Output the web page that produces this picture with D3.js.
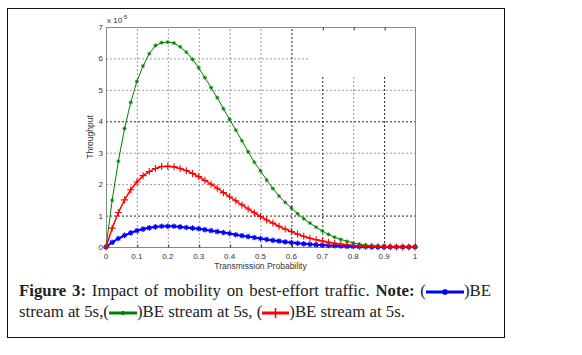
<!DOCTYPE html>
<html>
<head>
<meta charset="utf-8">
<script src="https://cdn.jsdelivr.net/npm/d3@7"></script>
<style>
  body { margin: 0; background: #fff; }
  .cap { position: absolute; left: 19px; width: 472px; font-family: "Liberation Serif", serif; font-size: 16.8px; color: #222; line-height: 21px; }
  .icon { display: inline-block; vertical-align: middle; }
</style>
</head>
<body>
<div id="chart" style="position:relative;width:582px;height:355px;"></div>
<script>
// data (values in units of 1e-5)
const probs = [0, 0.02, 0.04, 0.06, 0.08, 0.1, 0.12, 0.14, 0.16, 0.18, 0.2, 0.22, 0.24, 0.26, 0.28, 0.3, 0.32, 0.34, 0.36, 0.38,
  0.4, 0.42, 0.44, 0.46, 0.48, 0.5, 0.52, 0.54, 0.56, 0.58, 0.6, 0.62, 0.64, 0.66, 0.68, 0.7, 0.72, 0.74, 0.76, 0.78,
  0.8, 0.82, 0.84, 0.86, 0.88, 0.9, 0.92, 0.94, 0.96, 0.98, 1];
const greenVals = [0, 1.49, 2.73, 3.77, 4.6, 5.27, 5.76, 6.15, 6.41, 6.5, 6.52, 6.49, 6.37, 6.2, 5.97, 5.7, 5.39, 5.07, 4.75, 4.4,
  4.06, 3.72, 3.38, 3.03, 2.7, 2.42, 2.13, 1.86, 1.62, 1.42, 1.24, 1.06, 0.9, 0.76, 0.63, 0.51, 0.4, 0.31, 0.24, 0.18,
  0.13, 0.09, 0.06, 0.04, 0.025, 0.015, 0.008, 0.004, 0.002, 0.001, 0];
const redVals = [0, 0.6, 1.1, 1.5, 1.82, 2.07, 2.27, 2.4, 2.5, 2.56, 2.57, 2.55, 2.5, 2.43, 2.34, 2.24, 2.12, 2.0, 1.87, 1.73,
  1.6, 1.47, 1.34, 1.21, 1.09, 0.97, 0.86, 0.76, 0.66, 0.57, 0.49, 0.41, 0.34, 0.28, 0.23, 0.19, 0.15, 0.12, 0.09, 0.07,
  0.05, 0.035, 0.025, 0.017, 0.011, 0.007, 0.004, 0.002, 0.001, 0.0005, 0];
const blueVals = [0, 0.15, 0.27, 0.37, 0.45, 0.52, 0.57, 0.61, 0.64, 0.66, 0.66, 0.66, 0.64, 0.62, 0.6, 0.58, 0.55, 0.52, 0.49, 0.46,
  0.43, 0.39, 0.36, 0.33, 0.3, 0.27, 0.24, 0.21, 0.19, 0.16, 0.14, 0.12, 0.1, 0.085, 0.07, 0.06, 0.05, 0.04, 0.03, 0.022,
  0.016, 0.012, 0.008, 0.006, 0.004, 0.003, 0.002, 0.001, 0.001, 0, 0];
const xTicks = [0, 0.1, 0.2, 0.3, 0.4, 0.5, 0.6, 0.7, 0.8, 0.9, 1];
const yTicks = [0, 1, 2, 3, 4, 5, 6, 7];

const plot = { left: 106, right: 415, top: 27, bottom: 247 };

const svg = d3.select("#chart").append("svg")
    .attr("width", 582).attr("height", 355)
    .style("position", "absolute").style("left", 0).style("top", 0);

// outer frame
svg.append("rect")
    .attr("x", 7.5).attr("y", 8.5).attr("width", 497).attr("height", 329)
    .attr("fill", "none").attr("stroke", "#111").attr("stroke-width", 1);

const x = d3.scaleLinear().domain([0, 1]).range([plot.left, plot.right]);
const y = d3.scaleLinear().domain([0, 7]).range([plot.bottom, plot.top]);

// grid lines (some come out darker in the original scan)
const darkY = [1, 4], darkX = [0.6, 0.7, 0.9];
svg.selectAll(".ygrid")
    .data(yTicks.slice(1, -1))
    .join("line")
    .attr("x1", x(0))
    .attr("x2", d => d === 6 ? x(0.655) : x(1))
    .attr("y1", d => y(d) + 0.5).attr("y2", d => y(d) + 0.5)
    .attr("stroke", d => darkY.includes(d) ? "#222" : "#999")
    .attr("stroke-width", 1)
    .attr("stroke-dasharray", "2,2");

svg.selectAll(".xgrid")
    .data(xTicks.slice(1, -1))
    .join("line")
    .attr("x1", d => x(d) + 0.5).attr("x2", d => x(d) + 0.5)
    .attr("y1", y(0))
    .attr("y2", d => d >= 0.7 ? y(5.45) : y(7))
    .attr("stroke", d => darkX.includes(d) ? "#222" : "#999")
    .attr("stroke-width", 1)
    .attr("stroke-dasharray", "2,2");

// plot box
svg.append("rect")
    .attr("x", plot.left + 0.5).attr("y", plot.top + 0.5)
    .attr("width", plot.right - plot.left).attr("height", plot.bottom - plot.top)
    .attr("fill", "none").attr("stroke", "#888").attr("stroke-width", 1);

// axes
svg.append("g")
    .attr("transform", `translate(0.5,${plot.bottom + 0.5})`)
    .call(d3.axisTop(x).tickValues(xTicks).tickSize(3).tickFormat(""))
    .call(g => g.select(".domain").remove())
    .selectAll("line").attr("stroke", "#333");

svg.append("g")
    .attr("transform", `translate(0.5,${plot.top + 0.5})`)
    .call(d3.axisBottom(x).tickValues([0.7, 0.8, 0.9]).tickSize(3).tickFormat(""))
    .call(g => g.select(".domain").remove())
    .selectAll("line").attr("stroke", "#333");

svg.selectAll(".xlab")
    .data(xTicks)
    .join("text")
    .attr("x", d => x(d))
    .attr("y", plot.bottom + 12)
    .attr("text-anchor", "middle")
    .style("font-family", "Liberation Sans, Arial, sans-serif")
    .style("font-size", "8px")
    .attr("fill", "#333")
    .text(d => d);

svg.selectAll(".ylab")
    .data(yTicks)
    .join("text")
    .attr("x", plot.left - 3)
    .attr("y", d => y(d) + 3)
    .attr("text-anchor", "end")
    .style("font-family", "Liberation Sans, Arial, sans-serif")
    .style("font-size", "8px")
    .attr("fill", "#333")
    .text(d => d);

// exponent label
const expo = svg.append("text")
    .attr("x", plot.left + 1).attr("y", 23)
    .style("font-family", "Liberation Sans, Arial, sans-serif")
    .style("font-size", "8px")
    .attr("fill", "#333");
expo.append("tspan").text("x 10");
expo.append("tspan").attr("dy", -4).style("font-size", "6px").text("-5");

svg.append("text")
    .attr("transform", `translate(93,${(plot.top + plot.bottom) / 2}) rotate(-90)`)
    .attr("text-anchor", "middle")
    .style("font-family", "Liberation Sans, Arial, sans-serif")
    .style("font-size", "8.5px")
    .attr("fill", "#333")
    .text("Throughput");

svg.append("text")
    .attr("x", (plot.left + plot.right) / 2).attr("y", 269)
    .attr("text-anchor", "middle")
    .style("font-family", "Liberation Sans, Arial, sans-serif")
    .style("font-size", "8.5px")
    .attr("fill", "#333")
    .text("Transmission Probability");

// markers
function starPath(r) {
  const a = r * 0.7;
  return `M${-r},0L${r},0M0,${-r}L0,${r}M${-a},${-a}L${a},${a}M${-a},${a}L${a},${-a}`;
}
function plusPath(r) {
  return `M${-r},0L${r},0M0,${-r}L0,${r}`;
}

const series = [
  { vals: blueVals, color: "#0000ff", width: 2, marker: starPath(2.8), mw: 1.1 },
  { vals: greenVals, color: "#008000", width: 1, marker: starPath(2), mw: 0.9 },
  { vals: redVals, color: "#ff0000", width: 1.5, marker: plusPath(3.5), mw: 1.1 }
];

const line = d3.line()
    .x(d => x(d[0]))
    .y(d => y(d[1]));

series.forEach(s => {
  const pts = probs.map((p, i) => [p, s.vals[i]]);
  svg.append("path")
      .datum(pts)
      .attr("fill", "none")
      .attr("stroke", s.color)
      .attr("stroke-width", s.width)
      .attr("d", line);
  svg.append("g").selectAll("path")
      .data(pts)
      .join("path")
      .attr("transform", d => `translate(${x(d[0])},${y(d[1])})`)
      .attr("d", s.marker)
      .attr("fill", "none")
      .attr("stroke", s.color)
      .attr("stroke-width", s.mw);
});

// caption
function icon(color, w, marker) {
  const span = document.createElement("span");
  span.className = "icon";
  const ic = d3.select(span).append("svg").attr("width", w).attr("height", 12);
  ic.append("line").attr("x1", 0).attr("x2", w).attr("y1", 6).attr("y2", 6)
      .attr("stroke", color).attr("stroke-width", 3);
  ic.append("path").attr("transform", `translate(${w / 2},6)`).attr("d", marker)
      .attr("stroke", color).attr("stroke-width", 1.5).attr("fill", "none");
  return span;
}

const cap1 = d3.select("#chart").append("div").attr("class", "cap")
    .style("top", "280px").style("text-align", "justify").style("text-align-last", "justify");
cap1.append("b").text("Figure 3:");
cap1.append("span").text(" Impact of mobility on best-effort traffic. ");
cap1.append("b").text("Note:");
cap1.append("span").text(" (");
cap1.node().appendChild(icon("#0000ff", 38, starPath(3)));
cap1.append("span").text(")BE");

const cap2 = d3.select("#chart").append("div").attr("class", "cap")
    .style("top", "301px");
cap2.append("span").text("stream at 5s,(");
cap2.node().appendChild(icon("#008000", 28, starPath(2)));
cap2.append("span").text(")BE stream at 5s, (");
cap2.node().appendChild(icon("#ff0000", 27, plusPath(5)));
cap2.append("span").text(")BE stream at 5s.");
</script>
</body>
</html>
